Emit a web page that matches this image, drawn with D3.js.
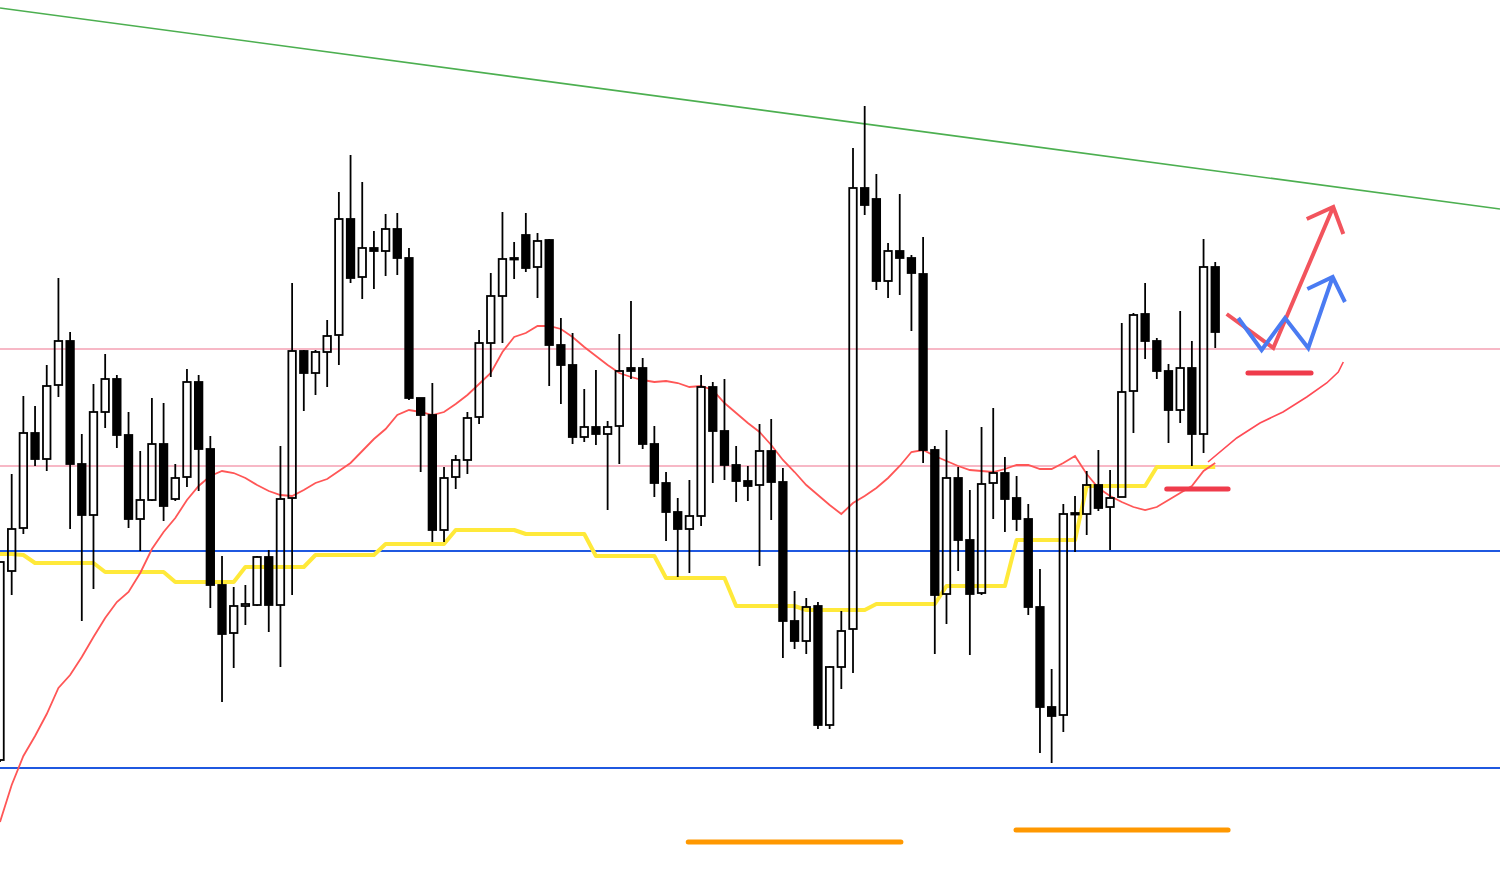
<!DOCTYPE html>
<html><head><meta charset="utf-8">
<script src="https://cdn.jsdelivr.net/npm/d3@7/dist/d3.min.js"></script>
<style>html,body{margin:0;padding:0;background:#fff;overflow:hidden}</style>
</head><body><div id="chart"></div>
<script>
// ---- data (price units, index = bar number) ----
const openP = [140,329,372,467,441,515,559,436,385,488, 521,465,381,400,456,401,423,518,451,315, 267,294,295,343,295,402,549,527,548,565, 681,623,652,649,671,642,502,485,370,423, 440,483,557,604,641,665,633,660,555,535, 463,473,466,474,532,532,456,417,388,371, 384,513,469,435,419,415,449,418,279,259, 294,175,233,271,712,701,619,649,642,626, 450,306,422,360,307,417,427,402,381,293, 193,185,386,386,415,393,403,509,586,559, 529,490,532,466,633];
const closeP = [338,371,467,441,514,559,436,385,488,521, 465,381,400,456,394,422,518,451,315,266, 294,296,343,295,401,549,527,548,564,681, 622,652,649,671,642,502,485,370,422,440, 482,557,604,641,642,632,659,555,535,463, 473,466,473,529,529,456,417,388,371,384, 513,469,435,419,414,449,418,279,259,293, 175,233,269,712,695,619,649,642,627,450, 305,422,360,306,416,427,401,381,293,193, 184,386,387,415,392,402,508,585,559,529, 490,532,466,633,568];
const highP = [338,426,504,494,535,622,568,466,516,546, 525,488,449,502,497,436,531,525,464,344, 313,315,344,350,454,617,550,550,580,708, 745,718,669,686,687,652,502,517,433,445, 488,570,627,688,658,687,667,661,582,567, 511,530,479,566,599,542,474,428,402,420, 525,518,521,454,434,476,481,432,309,302, 298,234,289,752,794,726,657,706,645,663, 454,470,433,410,473,492,443,424,396,331, 231,396,404,429,450,430,577,587,617,562, 536,589,559,661,638];
const lowP = [138,305,366,434,429,503,371,279,311,472, 452,372,349,399,379,399,413,409,292,198, 232,275,294,268,233,305,489,505,513,535, 617,601,611,624,625,500,428,358,358,411, 426,476,523,557,621,628,602,514,496,456, 458,455,390,436,521,451,403,359,323,327, 374,417,420,398,399,334,380,242,251,246, 171,171,211,227,685,610,602,605,569,437, 246,276,329,245,305,381,368,369,285,147, 137,168,348,365,389,350,403,467,541,521, 457,477,434,447,552];
const baseLine = [346,346,345,337,337,337,337,337,337,328, 328,328,328,328,328,318,318,318,318,318, 318,333,333,333,333,333,333,345,345,345, 345,345,345,356,356,356,356,356,356,370, 370,370,370,370,370,366,366,366,366,366, 366,344,344,344,344,344,344,322,322,322, 322,322,322,294,294,294,294,294,294,290, 290,290,290,290,290,296,296,296,296,296, 296,314,314,314,314,314,314,360,360,360, 360,360,360,414,414,414,414,414,414,433, 433,433,433,433,433];
const maLine = [78,115,144,164,186,212,225,243,263,282, 298,308,327,351,368,382,400,414,424,429, 427,422,415,409,405,404,410,417,421,429, 437,449,461,471,485,490,488,485,488,496, 505,516,527,548,563,567,574,574,571,563, 553,544,535,527,523,520,518,519,517,513, 514,510,497,487,477,468,455,440,428,415, 405,395,386,397,404,412,422,434,448,450, 444,439,434,430,429,428,431,435,435,431, 431,437,444,426,412,404,398,393,390,393, 400,407,414,429,437];
const pinkLevels = [551, 434];
const blueLevels = [349, 132];
const trendLine = [[0, 892], [128.37, 691]];
const orangeSegs = [[[58.9, 58], [77.1, 58]], [[86.95, 70], [105.1, 70]]];
const redSegs = [[[106.8, 527], [112.2, 527]], [[99.85, 411], [105.1, 411]]];
const redArrow = [[104.98, 586], [108.97, 552], [114.1, 693]];
const redArrowHead = [[111.83, 681], [114.1, 693], [114.96, 666]];
const blueArrow = [[105.97, 582], [107.97, 550], [109.97, 582], [111.96, 552], [114.05, 623]];
const blueArrowHead = [[111.88, 611], [114.05, 623], [115.1, 598]];
const projCurve = [[103.38, 438], [105.84, 462], [107.83, 477], [109.8, 488], [111.83, 503], [113.54, 517], [114.53, 528], [114.96, 538]];

const W = 1500, H = 894;
const svg = d3.select("#chart").append("svg").attr("width", W).attr("height", H);
const x = d3.scaleLinear().domain([0, 128.37]).range([0, 1500]);
const y = d3.scaleLinear().domain([0, 900]).range([900, 0]);
const bw = 7.5;

const candles = openP.map((o, i) => ({i, o, c: closeP[i], h: highP[i], l: lowP[i]}));
const line = d3.line().x(d => x(d[0])).y(d => y(d[1]));

// background lines
svg.append("path").attr("d", line(trendLine)).attr("stroke", "#4caf50").attr("stroke-width", 1.6).attr("fill", "none");
pinkLevels.forEach(v => svg.append("line").attr("x1", 0).attr("x2", W).attr("y1", y(v)).attr("y2", y(v))
  .attr("stroke", "#f7b8c6").attr("stroke-width", 1.8));
blueLevels.forEach(v => svg.append("line").attr("x1", 0).attr("x2", W).attr("y1", y(v)).attr("y2", y(v))
  .attr("stroke", "#1f58e0").attr("stroke-width", 1.8));

// indicators
svg.append("path").attr("d", line(baseLine.map((v, i) => [i, v])))
  .attr("stroke", "#ffe93a").attr("stroke-width", 4).attr("fill", "none").attr("stroke-linejoin", "round");
svg.append("path").attr("d", line(maLine.map((v, i) => [i, v])))
  .attr("stroke", "#ff5656").attr("stroke-width", 1.8).attr("fill", "none");

// candles
const g = svg.append("g");
g.selectAll("line.up").data(candles).join("line").attr("class", "up")
  .attr("x1", d => x(d.i)).attr("x2", d => x(d.i))
  .attr("y1", d => y(d.h)).attr("y2", d => y(Math.max(d.o, d.c)))
  .attr("stroke", "#000").attr("stroke-width", 1.8);
g.selectAll("line.dn").data(candles).join("line").attr("class", "dn")
  .attr("x1", d => x(d.i)).attr("x2", d => x(d.i))
  .attr("y1", d => y(Math.min(d.o, d.c))).attr("y2", d => y(d.l))
  .attr("stroke", "#000").attr("stroke-width", 1.8);
g.selectAll("rect").data(candles).join("rect")
  .attr("x", d => x(d.i) - bw / 2)
  .attr("y", d => y(Math.max(d.o, d.c)))
  .attr("width", bw)
  .attr("height", d => Math.max(1.5, Math.abs(y(d.o) - y(d.c))))
  .attr("fill", d => d.c > d.o ? "none" : "#000")
  .attr("stroke", "#000").attr("stroke-width", 1.8);

// drawings
orangeSegs.forEach(s => svg.append("path").attr("d", line(s)).attr("stroke", "#ff9800").attr("stroke-width", 5).attr("stroke-linecap", "round").attr("fill", "none"));
redSegs.forEach(s => svg.append("path").attr("d", line(s)).attr("stroke", "#ef3b4b").attr("stroke-width", 5).attr("stroke-linecap", "round").attr("fill", "none"));
svg.append("path").attr("d", line(projCurve)).attr("stroke", "#ff4a55").attr("stroke-width", 1.6).attr("fill", "none");
svg.append("path").attr("d", line(redArrow)).attr("stroke", "#f2545d").attr("stroke-width", 4).attr("fill", "none");
svg.append("path").attr("d", line(redArrowHead)).attr("stroke", "#f2545d").attr("stroke-width", 4).attr("fill", "none");
svg.append("path").attr("d", line(blueArrow)).attr("stroke", "#4a7bf2").attr("stroke-width", 4).attr("fill", "none");
svg.append("path").attr("d", line(blueArrowHead)).attr("stroke", "#4a7bf2").attr("stroke-width", 4).attr("fill", "none");
</script>
</body></html>
